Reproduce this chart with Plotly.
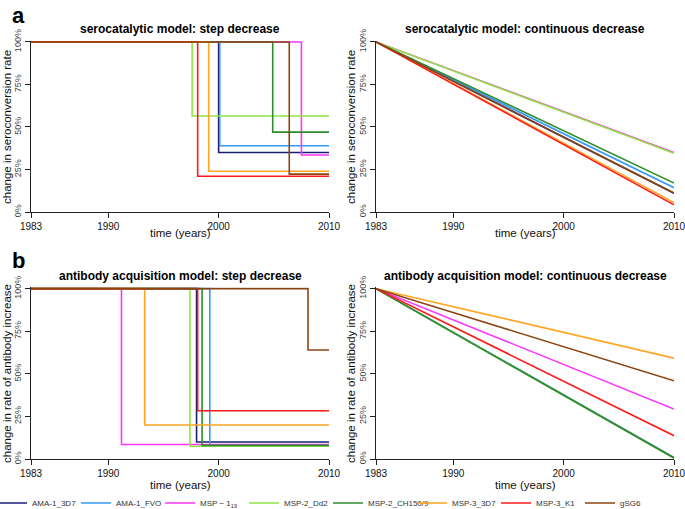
import plotly.graph_objects as go

# ---------------- data ----------------
antigens = ["AMA-1_3D7", "AMA-1_FVO", "MSP − 1<sub>19</sub>", "MSP-2_Dd2",
            "MSP-2_CH150/9", "MSP-3_3D7", "MSP-3_K1", "gSG6"]
colors = ["#1C1C78", "#3399FF", "#FF33FF", "#8EE53F",
          "#2E8B2E", "#FFA520", "#FF1A1A", "#8B4513"]

year_start = 1983
year_end = 2010

# serocatalytic model: step decrease (year of change, level after change in %)
sero_step_year = [2000.0, 2000.1, 2007.5, 1997.6, 2004.9, 1999.1, 1998.1, 2006.4]
sero_step_level = [35.0, 39.0, 33.5, 56.5, 47.0, 24.0, 21.0, 22.3]

# serocatalytic model: continuous decrease (value in 2010, %)
sero_cont_end = [11.0, 14.3, 35.0, 34.5, 17.0, 5.5, 4.2, 11.2]

# antibody acquisition model: step decrease
ab_step_year = [1998.0, 1999.2, 1991.2, 1997.4, 1998.5, 1993.3, 1998.1, 2008.1]
ab_step_level = [10.0, 8.0, 8.5, 7.5, 8.0, 20.0, 28.3, 64.0]

# antibody acquisition model: continuous decrease
ab_cont_end = [0.8, 0.8, 29.3, 0.5, 0.6, 59.2, 13.7, 45.9]

x_ticks = [1983, 1990, 2000, 2010]
y_ticks = [0, 25, 50, 75, 100]
y_tick_labels = ["0%", "25%", "50%", "75%", "100%"]

titles = ["serocatalytic model: step decrease",
          "serocatalytic model: continuous decrease",
          "antibody acquisition model: step decrease",
          "antibody acquisition model: continuous decrease"]
y_titles = ["change in seroconversion rate", "change in seroconversion rate",
            "change in rate of antibody increase", "change in rate of antibody increase"]
x_title = "time (years)"
panel_letters = ["a", "b"]

# ---------------- layout geometry ----------------
W, H = 685, 509
B = 10  # small bottom margin so the legend sits below the plot area
FONT = "Liberation Sans, Arial, sans-serif"

def px_x(p):
    return p / W

def px_y(p):
    return (H - B - p) / (H - B)

x_dom = [[px_x(31), px_x(329)], [px_x(376), px_x(674)]]
y_dom = [[px_y(212), px_y(40.6)], [px_y(459), px_y(287.3)]]

fig = go.Figure()

axis_names = [("x", "y"), ("x2", "y2"), ("x3", "y3"), ("x4", "y4")]

def add_panel(idx, series_kind, a_vals, b_vals=None):
    xa, ya = axis_names[idx]
    for i, name in enumerate(antigens):
        if series_kind == "step":
            xs = [year_start, a_vals[i], year_end]
            ys = [100, b_vals[i], b_vals[i]]
            shape = "hv"
        else:
            xs = [year_start, year_end]
            ys = [100, a_vals[i]]
            shape = "linear"
        fig.add_trace(go.Scatter(
            x=xs, y=ys, mode="lines", name=name,
            line=dict(color=colors[i], width=1.6, shape=shape),
            xaxis=xa, yaxis=ya,
            showlegend=(idx == 0), legendgroup=name, hoverinfo="skip"))

add_panel(0, "step", sero_step_year, sero_step_level)
add_panel(1, "cont", sero_cont_end)
add_panel(2, "step", ab_step_year, ab_step_level)
add_panel(3, "cont", ab_cont_end)

layout = dict(
    width=W, height=H,
    margin=dict(l=0, r=0, t=0, b=B, pad=0, autoexpand=False),
    paper_bgcolor="white", plot_bgcolor="white",
    font=dict(family=FONT, color="#111"),
    showlegend=True,
    legend=dict(orientation="h", x=px_x(-8), xanchor="left", y=px_y(503), yanchor="middle",
                entrywidth=39, entrywidthmode="pixels", itemwidth=30,
                font=dict(size=8, color="#333", family=FONT),
                bgcolor="rgba(0,0,0,0)", tracegroupgap=0),
)

for idx in range(4):
    row, col = divmod(idx, 2)
    suffix = "" if idx == 0 else str(idx + 1)
    layout["xaxis" + suffix] = dict(
        domain=x_dom[col], range=[year_start, year_end],
        anchor="y" + suffix,
        tickmode="array", tickvals=x_ticks, ticktext=[str(t) for t in x_ticks],
        ticks="outside", ticklen=5, tickwidth=1, tickcolor="#222",
        showline=True, linecolor="#222", linewidth=1.2,
        showgrid=False, zeroline=False, automargin=False,
        ticklabeloverflow="allow",
        tickfont=dict(size=10, color="#111", family=FONT),
    )
    layout["yaxis" + suffix] = dict(
        domain=y_dom[row], range=[0, 100.8],
        anchor="x" + suffix,
        tickmode="array", tickvals=y_ticks, ticktext=y_tick_labels,
        tickangle=-90,
        ticks="outside", ticklen=5, tickwidth=1, tickcolor="#222",
        showline=True, linecolor="#222", linewidth=1.2,
        showgrid=False, zeroline=False, automargin=False,
        ticklabeloverflow="allow",
        tickfont=dict(size=9, color="#444", family=FONT),
    )

fig.update_layout(**layout)

annotations = []
title_y = [px_y(29), px_y(276)]
xcent = [px_x(180), px_x(525)]
ycent = [px_y(127), px_y(374)]
ytitle_x = [px_x(7), px_x(351)]
xtitle_y = [px_y(233), px_y(485)]
for idx in range(4):
    row, col = divmod(idx, 2)
    annotations.append(dict(text="<b>" + titles[idx] + "</b>", x=xcent[col], y=title_y[row],
                            xref="paper", yref="paper", showarrow=False,
                            xanchor="center", yanchor="middle",
                            font=dict(size=12, color="#000", family=FONT)))
    annotations.append(dict(text=y_titles[idx], x=ytitle_x[col], y=ycent[row],
                            xref="paper", yref="paper", showarrow=False, textangle=-90,
                            xanchor="center", yanchor="middle",
                            font=dict(size=11.5, color="#111", family=FONT)))
    annotations.append(dict(text=x_title, x=xcent[col], y=xtitle_y[row],
                            xref="paper", yref="paper", showarrow=False,
                            xanchor="center", yanchor="middle",
                            font=dict(size=11.5, color="#111", family=FONT)))
for r, letter in enumerate(panel_letters):
    annotations.append(dict(text="<b>" + letter + "</b>", x=px_x(10), y=[px_y(15), px_y(260)][r],
                            xref="paper", yref="paper", showarrow=False,
                            xanchor="left", yanchor="middle",
                            font=dict(size=22, color="#000", family=FONT)))
fig.update_layout(annotations=annotations)

fig.write_html("out.html", config={"displayModeBar": False},
               post_script="document.body.style.margin='0';document.body.style.overflow='hidden';")
